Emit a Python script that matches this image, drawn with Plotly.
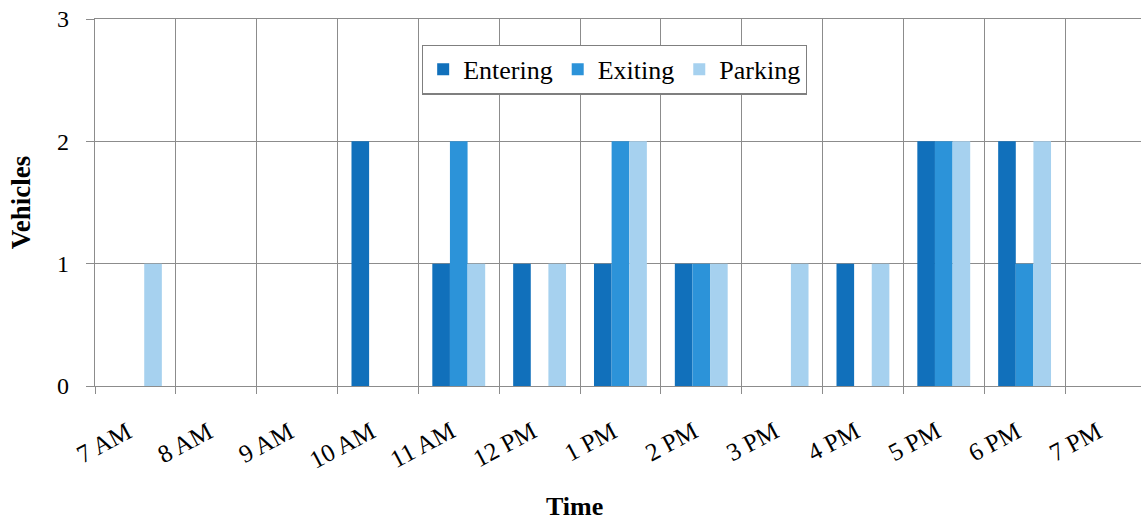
import plotly.graph_objects as go

# Hour boundaries (tick labels sit on these gridlines)
hours = [7, 8, 9, 10, 11, 12, 13, 14, 15, 16, 17, 18, 19]
hour_labels = ["7 AM", "8 AM", "9 AM", "10 AM", "11 AM", "12 PM", "1 PM",
               "2 PM", "3 PM", "4 PM", "5 PM", "6 PM", "7 PM"]

# Counts per one-hour interval (7-8 AM ... 6-7 PM)
entering = [0, 0, 0, 2, 1, 1, 1, 1, 0, 1, 2, 2]
exiting = [0, 0, 0, 0, 2, 0, 2, 1, 0, 0, 2, 1]
parking = [1, 0, 0, 0, 1, 1, 2, 1, 1, 1, 2, 2]

interval_mid = [h + 0.5 for h in hours[:-1]]

FONT = "Liberation Serif"
GRID = "#8c8c8c"

fig = go.Figure()
fig.add_trace(go.Bar(name="Entering", x=interval_mid, y=entering,
                     marker=dict(color="#1170bb", line=dict(width=0))))
fig.add_trace(go.Bar(name="Exiting", x=interval_mid, y=exiting,
                     marker=dict(color="#2c93d9", line=dict(width=0))))
fig.add_trace(go.Bar(name="Parking", x=interval_mid, y=parking,
                     marker=dict(color="#a6d1ef", line=dict(width=0))))

annotations = []
for h, lab in zip(hours, hour_labels):
    annotations.append(dict(
        x=h, y=0, xref="x", yref="y", text=lab, showarrow=False,
        textangle=-28, xanchor="right", yanchor="top",
        xshift=44, yshift=-28,
        font=dict(family=FONT, size=25, color="black")))
annotations.append(dict(
    x=0.458, y=0, xref="paper", yref="y", text="<b>Time</b>", showarrow=False,
    xanchor="center", yanchor="middle", yshift=-120,
    font=dict(family=FONT, size=26, color="black")))

fig.update_layout(
    width=1141, height=523,
    margin=dict(l=95, r=0, t=19, b=137, autoexpand=False),
    paper_bgcolor="white", plot_bgcolor="white",
    barmode="group", bargap=0.346, bargroupgap=0,
    font=dict(family=FONT, color="black"),
    showlegend=True,
    legend=dict(orientation="h", x=0.3126, y=0.93, xanchor="left", yanchor="top",
                bgcolor="white", bordercolor="#7f7f7f", borderwidth=1.2,
                font=dict(family=FONT, size=26, color="black"),
                traceorder="normal"),
    annotations=annotations,
    xaxis=dict(range=[7, 19.94], tickmode="array", tickvals=hours,
               showticklabels=False, showgrid=True, gridcolor=GRID, gridwidth=1.3,
               ticks="outside", ticklen=7, tickcolor=GRID, tickwidth=1.3,
               showline=True, linecolor=GRID, linewidth=1.3, mirror=True,
               zeroline=False, automargin=False),
    yaxis=dict(range=[0, 3], tickmode="array", tickvals=[0, 1, 2, 3],
               ticktext=["0", "1", "2", "3"],
               showgrid=True, gridcolor=GRID, gridwidth=1.3,
               ticks="outside", ticklen=8, tickcolor=GRID, tickwidth=1.3,
               ticklabelstandoff=12, automargin=False,
               ticklabeloverflow="allow",
               tickfont=dict(family=FONT, size=24, color="black"),
               showline=True, linecolor=GRID, linewidth=1.3, zeroline=False,
               title=dict(text="<b>Vehicles</b>", standoff=18,
                          font=dict(family=FONT, size=27, color="black"))),
)

fig.write_html("out.html",
               config={"displayModeBar": False},
               post_script="document.body.style.margin='0';")
